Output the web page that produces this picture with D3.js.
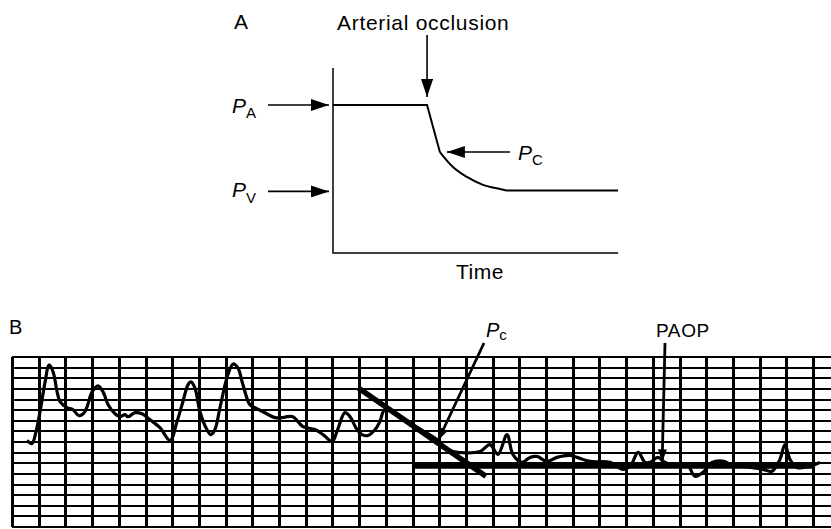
<!DOCTYPE html>
<html>
<head>
<meta charset="utf-8">
<script src="https://cdn.jsdelivr.net/npm/d3@7"></script>
<style>
  body { margin: 0; background: #fff; }
  svg { display: block; font-family: "Liberation Sans", Arial, Helvetica, sans-serif; }
</style>
</head>
<body>
<div id="chart"></div>
<script>
// panel A: schematic occlusion curve (time units, pressure units)
const schemeFlat = [[0, 8.0], [3.3, 8.0], [3.75, 5.46]];
const schemeDecay = [[3.75, 5.46], [4.21, 4.65], [4.7, 4.11], [5.26, 3.68], [5.86, 3.46], [6.11, 3.38], [10, 3.38]];
const levelPA = 8.0, levelPV = 3.33, occlusionTime = 3.3, pcPoint = [3.75, 5.46];

// panel B: recorded pressure trace (grid divisions)
const traceTime = [0.56, 0.75, 0.9, 1.05, 1.24, 1.39, 1.54, 1.69, 1.8, 2.06, 2.28, 2.51, 2.73, 3.0, 3.22, 3.41, 3.6, 3.86, 4.04, 4.23, 4.34, 4.61, 4.87,
  5.17, 5.54, 5.92, 6.18, 6.4, 6.59, 6.7, 6.85, 7.04, 7.3, 7.45, 7.6, 7.79, 8.05, 8.28, 8.46, 8.65, 8.91, 9.1, 9.4, 9.85, 10.11, 10.3, 10.52, 10.71,
  10.9, 11.35, 11.65, 11.99, 12.17, 12.47, 12.66, 12.92, 13.11, 13.33, 13.6, 13.78, 13.97, 14.91, 15.96,
  16.14, 16.52, 17.53, 17.9, 18.2, 18.54, 18.76, 19.1, 19.4, 19.66, 20.04, 20.41, 20.9, 21.16, 21.65, 22.4, 22.88, 23.15, 23.45, 23.71, 23.9,
  24.19, 24.46, 24.76, 25.28, 25.58, 25.88, 26.22, 26.7, 26.89, 27.38, 28.13, 28.46, 28.76, 28.95, 29.14, 29.4, 29.89, 30.26];
const tracePressure = [8.14, 7.86, 8.98, 10.85, 13.66, 15.25, 14.59, 12.72, 11.79, 11.23, 11.04, 10.48, 10.85, 12.72, 13.28, 12.72, 11.51, 10.66, 10.38, 10.57, 10.38, 10.76, 10.66,
  10.1, 9.35, 8.14, 9.92, 11.79, 13.38, 13.66, 13.1, 10.85, 9.17, 8.7, 9.17, 11.23, 14.03, 15.34, 14.97, 13.38, 11.51, 11.23, 10.85, 10.29, 10.29, 10.38, 10.38, 9.92,
  9.45, 9.17, 8.7, 8.04, 8.98, 10.76, 10.38, 9.17, 8.7, 8.61, 9.17, 9.92, 11.04, 9.73, 8.14,
  7.58, 7.11, 7.11, 7.76, 6.83, 8.7, 6.83, 6.08, 6.55, 6.64, 6.17, 6.55, 6.74, 6.55, 6.17, 6.08, 5.43, 5.71, 7.02, 6.08, 6.08,
  6.55, 6.08, 5.89, 5.89, 4.77, 5.14, 6.08, 6.17, 5.89, 5.71, 5.43, 5.24, 6.36, 7.76, 6.36, 5.61, 5.71, 6.08];
const decayLine = [[12.96, 13.1], [17.75, 4.77]];
const paopLine = [[14.98, 5.8], [29.96, 5.8]];
const pcTime = 15.96, pcPressure = 8.14;
const paopTime = 24.35;
const gridCols = d3.range(0, 32);
const gridRows = d3.range(0, 17);

const width = 831, height = 529;
const svg = d3.select("#chart").append("svg")
  .attr("width", width).attr("height", height);

const defs = svg.append("defs");
function marker(id, len, w) {
  defs.append("marker")
    .attr("id", id)
    .attr("viewBox", `0 0 ${len} ${w}`)
    .attr("refX", len).attr("refY", w / 2)
    .attr("markerWidth", len).attr("markerHeight", w)
    .attr("markerUnits", "userSpaceOnUse")
    .attr("orient", "auto")
    .append("path")
    .attr("d", `M0,0L${len},${w / 2}L0,${w}Z`)
    .attr("fill", "#000");
}
marker("headA", 18, 12);
marker("headB", 13, 9);

function arrow(g, x1, y1, x2, y2, head, sw) {
  g.append("line")
    .attr("x1", x1).attr("y1", y1).attr("x2", x2).attr("y2", y2)
    .attr("stroke", "#000").attr("stroke-width", sw)
    .attr("marker-end", `url(#${head})`);
}

function plabel(g, x, y, sub, size, subSize, dy) {
  const t = g.append("text").attr("x", x).attr("y", y).attr("font-size", size);
  t.append("tspan").attr("font-style", "italic").text("P");
  t.append("tspan").attr("font-size", subSize).attr("dy", dy).text(sub);
}

// ---------- panel A ----------
const xA = d3.scaleLinear().domain([0, 10]).range([333, 618]);
const yA = d3.scaleLinear().domain([0, 10]).range([253, 68]);
const gA = svg.append("g");

gA.append("path")
  .attr("d", `M${xA(0)},${yA(10)}V${yA(0)}H${xA(10)}`)
  .attr("fill", "none").attr("stroke", "#000").attr("stroke-width", 1.5);

const lineA = d3.line().x(d => xA(d[0])).y(d => yA(d[1]));
gA.append("path").datum(schemeFlat)
  .attr("d", lineA)
  .attr("fill", "none").attr("stroke", "#000").attr("stroke-width", 2);
gA.append("path").datum(schemeDecay)
  .attr("d", lineA.curve(d3.curveMonotoneX))
  .attr("fill", "none").attr("stroke", "#000").attr("stroke-width", 2);

arrow(gA, 268, yA(levelPA), xA(0) - 4, yA(levelPA), "headA", 1.6);
arrow(gA, 268, yA(levelPV), xA(0) - 4, yA(levelPV), "headA", 1.6);
arrow(gA, xA(occlusionTime), 35, xA(occlusionTime), yA(levelPA) - 8, "headA", 1.6);
arrow(gA, 510, yA(pcPoint[1]), xA(pcPoint[0]) + 7, yA(pcPoint[1]), "headA", 1.6);

gA.append("text").attr("x", 234).attr("y", 29).attr("font-size", 21).text("A");
gA.append("text").attr("x", 337).attr("y", 30).attr("font-size", 21)
  .attr("letter-spacing", 0.7).text("Arterial occlusion");
gA.append("text").attr("x", 456).attr("y", 279).attr("font-size", 21)
  .attr("letter-spacing", 0.5).text("Time");
plabel(gA, 232, yA(levelPA) + 8, "A", 21, 15, 5);
plabel(gA, 232, yA(levelPV) + 6, "V", 21, 15, 6);
plabel(gA, 518, yA(pcPoint[1]) + 8, "C", 21, 15, 5);

// ---------- panel B ----------
const xB = d3.scaleLinear().domain([0, 30]).range([12, 813]);
const yB = d3.scaleLinear().domain([0, 16]).range([527, 357]);
const gB = svg.append("g");

gB.selectAll(".row").data(gridRows).join("line")
  .attr("x1", xB(0)).attr("x2", width)
  .attr("y1", d => Math.round(yB(d))).attr("y2", d => Math.round(yB(d)))
  .attr("stroke", "#000").attr("stroke-width", 2)
  .attr("shape-rendering", "crispEdges");
gB.selectAll(".col").data(gridCols).join("line")
  .attr("x1", d => Math.round(xB(d))).attr("x2", d => Math.round(xB(d)))
  .attr("y1", yB(16)).attr("y2", yB(0))
  .attr("stroke", "#000").attr("stroke-width", 3)
  .attr("shape-rendering", "crispEdges");

const trace = traceTime.map((t, i) => [t, tracePressure[i]]);
const lineB = d3.line().x(d => xB(d[0])).y(d => yB(d[1]));
gB.append("path").datum(trace)
  .attr("d", lineB.curve(d3.curveCatmullRom.alpha(0.5)))
  .attr("fill", "none").attr("stroke", "#000").attr("stroke-width", 3.2)
  .attr("stroke-linejoin", "round");

const straight = d3.line().x(d => xB(d[0])).y(d => yB(d[1]));
gB.append("path").datum(decayLine).attr("d", straight)
  .attr("stroke", "#000").attr("stroke-width", 5.5);
gB.append("path").datum(paopLine).attr("d", straight)
  .attr("stroke", "#000").attr("stroke-width", 6.5);

arrow(gB, 484, 343, xB(pcTime), yB(pcPressure), "headB", 2.8);
arrow(gB, 665, 343, xB(paopTime), yB(5.8) - 3, "headB", 2.8);

gB.append("text").attr("x", 9).attr("y", 334).attr("font-size", 20).text("B");
plabel(gB, 486, 337, "c", 20, 15, 3);
gB.append("text").attr("x", 656).attr("y", 337).attr("font-size", 19)
  .attr("letter-spacing", 0.6).text("PAOP");
</script>
</body>
</html>
